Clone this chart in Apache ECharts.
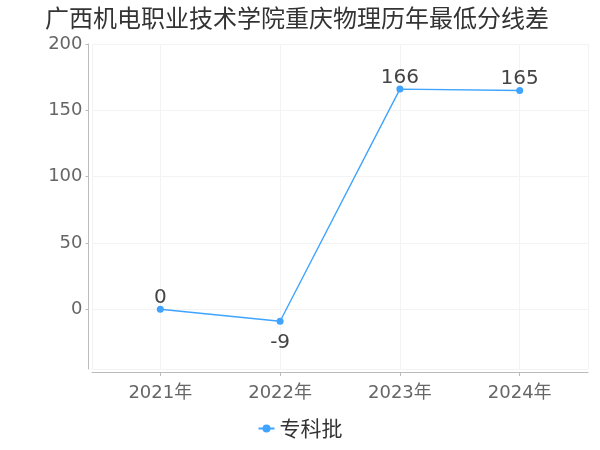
<!DOCTYPE html>
<html>
<head>
<meta charset="utf-8">
<script src="https://cdn.jsdelivr.net/npm/echarts@6/dist/echarts.min.js"></script>
<style>
  html, body { margin: 0; padding: 0; background: #fff; }
  #chart { width: 600px; height: 450px; }
</style>
</head>
<body>
<div id="chart"></div>
<script>
const titleText = '广西机电职业技术学院重庆物理历年最低分线差';
const years = ['2021年', '2022年', '2023年', '2024年'];
const seriesName = '专科批';
const diffs = [0, -9, 166, 165];

const font = '"DejaVu Sans", "Noto Sans CJK SC", sans-serif';

const chart = echarts.init(document.getElementById('chart'));

// x 轴按年份序号放点，两侧留出约半格多的空白
chart.setOption({
    animation: false,
    textStyle: { fontFamily: font },
    title: {
        text: titleText,
        left: 40,
        top: 1,
        textStyle: { fontSize: 24, fontWeight: 'normal', color: '#333', fontFamily: '"Noto Sans CJK SC", sans-serif' }
    },
    legend: {
        bottom: 6,
        left: 'center',
        itemWidth: 16,
        itemHeight: 10,
        itemGap: 6,
        textStyle: { fontSize: 21, color: '#333', fontFamily: '"Noto Sans CJK SC", sans-serif' },
        data: [seriesName]
    },
    grid: { left: 92, right: 12, top: 44, bottom: 81 },
    xAxis: {
        type: 'value',
        min: -0.57,
        max: years.length - 1 + 0.57,
        splitNumber: 4,
        offset: 3,
        axisLine: { show: true, onZero: false, lineStyle: { color: '#bbb' } },
        axisTick: { show: true, length: 4, lineStyle: { color: '#bbb' } },
        axisLabel: {
            fontSize: 18,
            color: '#666',
            margin: 12,
            showMinLabel: false,
            showMaxLabel: false,
            fontFamily: font,
            formatter: (v) => years[Math.round(v)] ?? ''
        },
        splitLine: { show: true, lineStyle: { color: '#f3f3f3' } }
    },
    yAxis: {
        type: 'value',
        min: -45,
        max: 200,
        offset: 3.5,
        axisLine: { show: true, onZero: false, lineStyle: { color: '#bbb' } },
        axisTick: { show: true, length: 3, lineStyle: { color: '#bbb' } },
        axisLabel: { fontSize: 18, color: '#666', margin: 6, padding: [3, 0, 0, 0], showMinLabel: false, fontFamily: font },
        splitLine: { lineStyle: { color: '#f3f3f3' } }
    },
    series: [{
        name: seriesName,
        type: 'line',
        data: diffs.map((v, i) => ({
            value: [i, v],
            label: { position: v < 0 ? 'bottom' : 'top' }
        })),
        symbol: 'circle',
        symbolSize: 7,
        color: '#3fa4ff',
        lineStyle: { width: 1.4, color: '#3fa4ff' },
        label: {
            show: true,
            fontSize: 20,
            color: '#444',
            distance: 3,
            offset: [0, 5],
            fontFamily: font,
            formatter: (p) => p.value[1]
        }
    }]
});
</script>
</body>
</html>
